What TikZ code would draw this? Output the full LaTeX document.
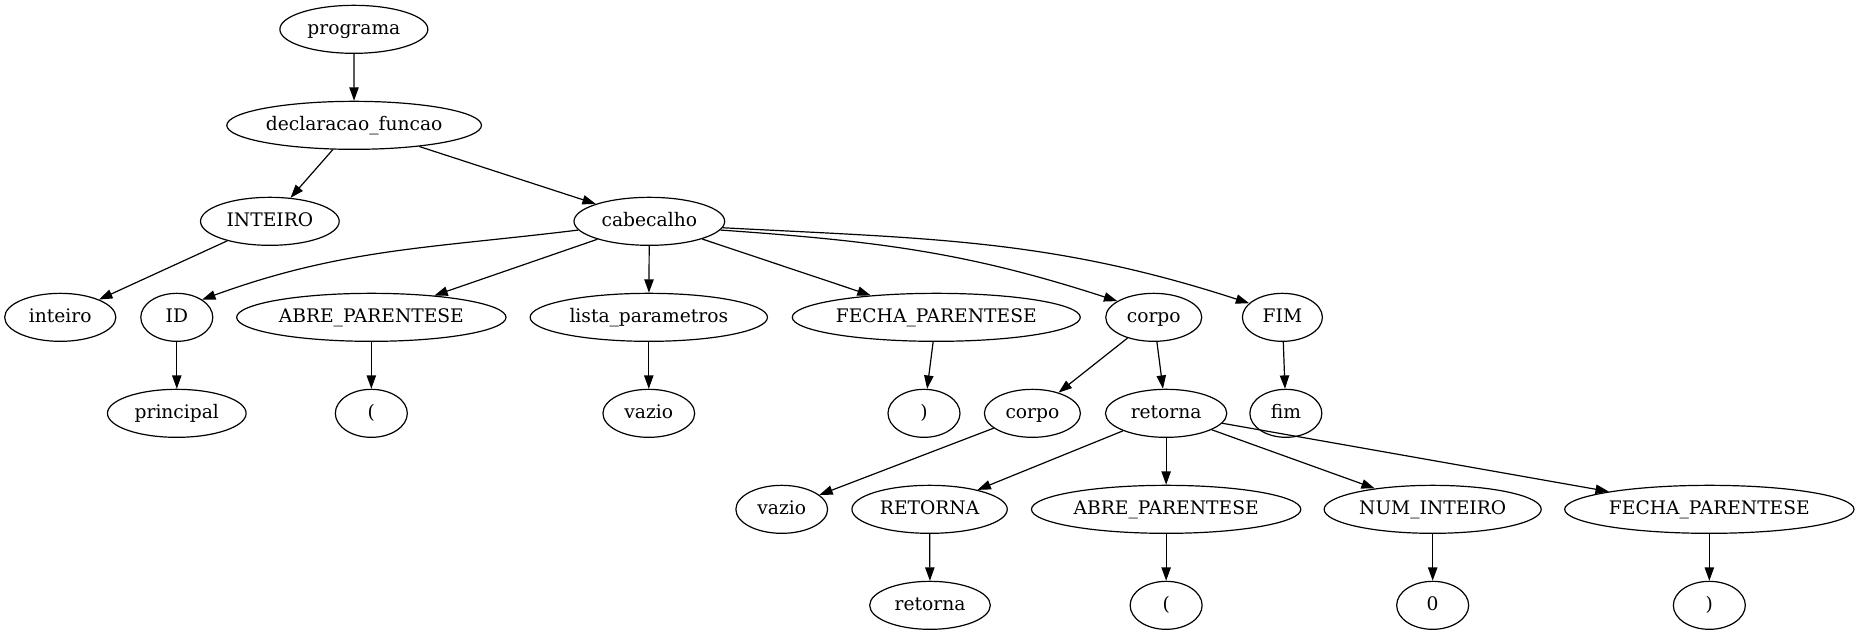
\documentclass[tikz,border=0pt]{standalone}
\usepackage{fontspec}
\setmainfont{DejaVu Serif}
\usetikzlibrary{shapes.geometric,arrows.meta}
\begin{document}
\begin{tikzpicture}[x=1pt,y=1pt,
  gv/.style={draw, ellipse, line width=0.9pt, minimum height=36pt, inner sep=0pt,
             text height=10.5pt, text depth=3pt, font=\fontsize{14}{16}\selectfont},
  arr/.style={draw, line width=0.9pt, -{Triangle[length=10pt,width=7pt]}}]
\useasboundingbox (0,0) rectangle (1395,-476);
% row 1
\node[gv, minimum width=111pt] (prog) at (265.4,-22) {programa};
% row 2
\node[gv, minimum width=191pt] (decl) at (265.6,-94) {declaracao\_funcao};
% row 3
\node[gv, minimum width=104pt] (int) at (202.4,-166) {INTEIRO};
\node[gv, minimum width=113pt] (cab) at (487,-166) {cabecalho};
% row 4
\node[gv, minimum width=83.4pt] (inteiro) at (45.2,-238) {inteiro};
\node[gv, minimum width=54pt] (id) at (132.6,-238) {ID};
\node[gv, minimum width=202pt] (abre) at (278.5,-238) {ABRE\_PARENTESE};
\node[gv, minimum width=178pt] (lista) at (486.6,-238) {lista\_parametros};
\node[gv, minimum width=216pt] (fecha) at (702.2,-238) {FECHA\_PARENTESE};
\node[gv, minimum width=72pt] (corpo) at (865.3,-238) {corpo};
\node[gv, minimum width=60pt] (FIM) at (961.8,-238) {FIM};
% row 5
\node[gv, minimum width=104pt] (principal) at (132.6,-310) {principal};
\node[gv, minimum width=54pt] (lpA) at (278.5,-310) {(};
\node[gv, minimum width=68.8pt] (vazioA) at (486.6,-310) {vazio};
\node[gv, minimum width=54pt] (rpA) at (693,-310) {)};
\node[gv, minimum width=72pt] (corpoB) at (774.3,-310) {corpo};
\node[gv, minimum width=91pt] (retorna) at (874.6,-310) {retorna};
\node[gv, minimum width=54pt] (fim) at (964.4,-310) {fim};
% row 6
\node[gv, minimum width=68.8pt] (vazioB) at (586.3,-382) {vazio};
\node[gv, minimum width=116.5pt] (RET) at (697.2,-382) {RETORNA};
\node[gv, minimum width=202pt] (abreB) at (874.6,-382) {ABRE\_PARENTESE};
\node[gv, minimum width=162.8pt] (num) at (1074.5,-382) {NUM\_INTEIRO};
\node[gv, minimum width=217pt] (fechaB) at (1282,-382) {FECHA\_PARENTESE};
% row 7
\node[gv, minimum width=90.5pt] (retleaf) at (697.5,-454) {retorna};
\node[gv, minimum width=54pt] (lpB) at (874.6,-454) {(};
\node[gv, minimum width=54pt] (zero) at (1074.5,-454) {0};
\node[gv, minimum width=54pt] (rpB) at (1282,-454) {)};
% edges
\path[arr] (prog) -- (decl);
\path[arr] (decl) -- (int);
\path[arr] (decl) -- (cab);
\path[arr] (int) -- (inteiro);
\path[arr] (cab.187) to[out=187, in=20] (id.35);
\path[arr] (cab) -- (abre);
\path[arr] (cab) -- (lista);
\path[arr] (cab) -- (fecha);
\path[arr] (cab.353) to[out=-4, in=162] (corpo.156);
\path[arr] (cab.355) to[out=-3, in=162] (FIM.157);
\path[arr] (id) -- (principal);
\path[arr] (abre) -- (lpA);
\path[arr] (lista) -- (vazioA);
\path[arr] (fecha) -- (rpA);
\path[arr] (corpo) -- (corpoB);
\path[arr] (corpo) -- (retorna);
\path[arr] (FIM) -- (fim);
\path[arr] (corpoB) -- (vazioB);
\path[arr] (retorna) -- (RET);
\path[arr] (retorna) -- (abreB);
\path[arr] (retorna) -- (num);
\path[arr] (retorna) -- (fechaB);
\path[arr] (RET) -- (retleaf);
\path[arr] (abreB) -- (lpB);
\path[arr] (num) -- (zero);
\path[arr] (fechaB) -- (rpB);
\end{tikzpicture}
\end{document}
